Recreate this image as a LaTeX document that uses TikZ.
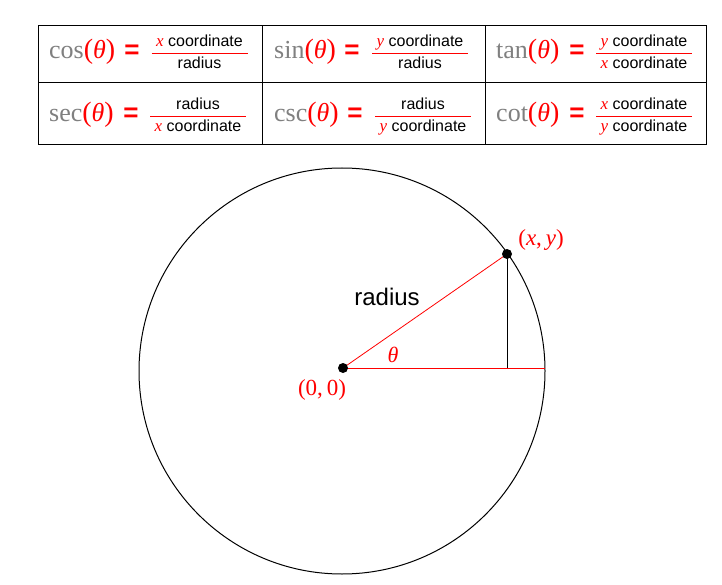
\documentclass[tikz,border=0pt]{standalone}
\usepackage{fontspec}
\setmainfont{Liberation Serif}
\setsansfont{Liberation Sans}
\newcommand\xc{{\color{red}\rmfamily\itshape\fontsize{17}{18}\selectfont x}}
\newcommand\yc{{\color{red}\rmfamily\itshape\fontsize{17}{18}\selectfont y}}
\newcommand\trigcell[8]{%
  \node[fn] (#1f) at (#2,#3) {{\color{gray}#4}{\color{red}{\fontsize{28}{30}\selectfont(}\textit{θ}{\fontsize{28}{30}\selectfont)}}};
  \node[eq] (#1e) at (#5,#3) {=};
  \node[frtxt] (#1n) at (#6,#3-12) {#7};
  \node[frtxt] (#1d) at (#6,#3+10) {#8};
  \draw[bar] (#6-48,#3-5) -- (#6+48,#3-5);
}
\begin{document}
\begin{tikzpicture}[x=1pt,y=-1pt,
  fn/.style={anchor=base west,inner sep=0pt,font=\fontsize{26}{28}\selectfont},
  eq/.style={anchor=base,inner sep=0pt,text=red,font=\sffamily\bfseries\fontsize{26}{28}\selectfont},
  frtxt/.style={anchor=base,inner sep=0pt,font=\sffamily\fontsize{16}{18}\selectfont},
  bar/.style={red,line width=1pt},
  grid/.style={black,line width=1pt},
  dot/.style={circle,fill=black,inner sep=0pt,minimum size=10pt},
  lbl/.style={text=red,inner sep=0pt,font=\fontsize{23}{25}\selectfont}]
\useasboundingbox (0,0) rectangle (722,585);
% table
\draw[grid] (38,26) rectangle (706,145);
\draw[grid] (38,83) -- (706,83);
\draw[grid] (262,26) -- (262,145);
\draw[grid] (485,26) -- (485,145);
\trigcell{c1}{49}{59}{cos}{132}{199.5}{\xc\ coordinate}{radius}
\trigcell{c2}{274}{59}{sin}{352}{420}{\yc\ coordinate}{radius}
\trigcell{c3}{496}{59}{tan}{577}{644}{\yc\ coordinate}{\xc\ coordinate}
\trigcell{c4}{49}{122}{sec}{131}{198}{radius}{\xc\ coordinate}
\trigcell{c5}{274}{122}{csc}{355}{423}{radius}{\yc\ coordinate}
\trigcell{c6}{496}{122}{cot}{577}{644}{\xc\ coordinate}{\yc\ coordinate}
% circle diagram
\coordinate (C) at (342,371);
\draw[line width=1pt] (C) circle[radius=203];
\coordinate (O) at (343,368);
\coordinate (P) at (507,254);
\coordinate (R) at (545,368);
\coordinate (F) at (507,368);
\draw[red,line width=1pt] (O) -- (R);
\draw[red,line width=0.8pt] (O) -- (P);
\draw[black,line width=1pt] (P) -- (F);
\node[dot] (Odot) at (O) {};
\node[dot] (Pdot) at (P) {};
\node[lbl] (Plab) at (541,240) {(\textit{x},\,\textit{y})};
\node[lbl] (Olab) at (322,390) {(0,\,0)};
\node[lbl,font=\fontsize{22}{24}\selectfont] (th) at (393,355) {\textit{θ}};
\node[inner sep=0pt,font=\sffamily\fontsize{24}{26}\selectfont] (rad) at (387,297) {radius};
\end{tikzpicture}
\end{document}
